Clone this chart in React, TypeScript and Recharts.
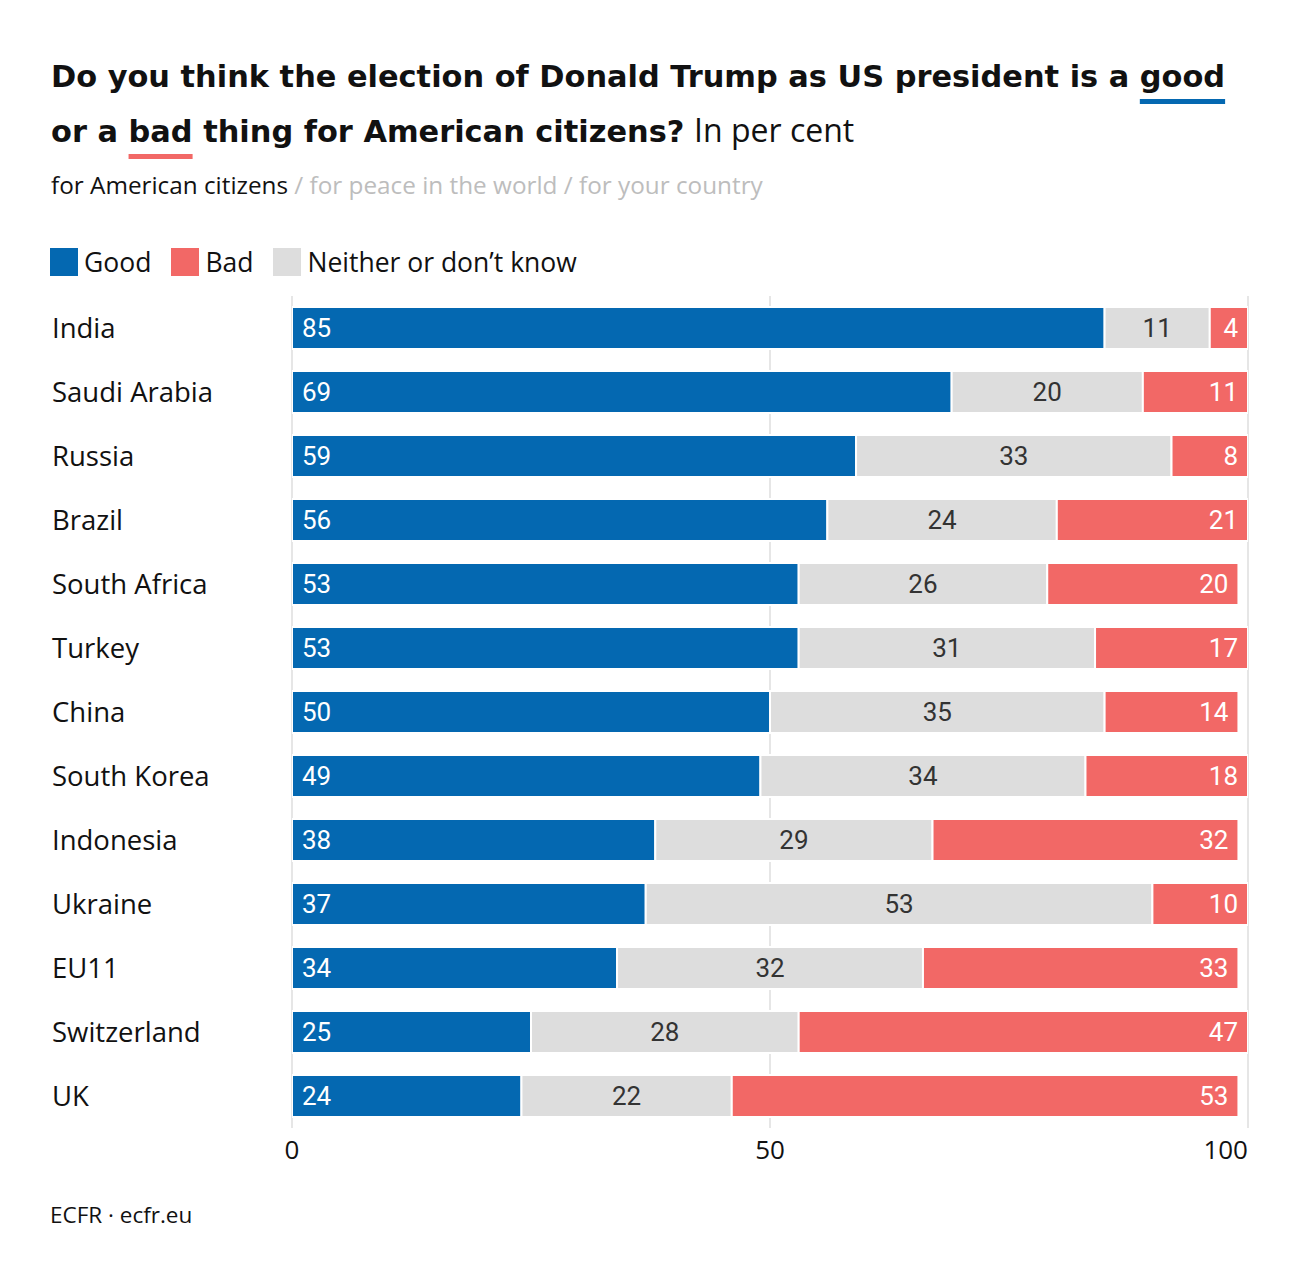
import React from "react";
import {
  BarChart,
  Bar,
  XAxis,
  YAxis,
  CartesianGrid,
  LabelList,
} from "recharts";

const countries = [
  "India",
  "Saudi Arabia",
  "Russia",
  "Brazil",
  "South Africa",
  "Turkey",
  "China",
  "South Korea",
  "Indonesia",
  "Ukraine",
  "EU11",
  "Switzerland",
  "UK",
];
const good = [85, 69, 59, 56, 53, 53, 50, 49, 38, 37, 34, 25, 24];
const neither = [11, 20, 33, 24, 26, 31, 35, 34, 29, 53, 32, 28, 22];
const bad = [4, 11, 8, 21, 20, 17, 14, 18, 32, 10, 33, 47, 53];
const xTicks = [0, 50, 100];

const BLUE = "#0468b1";
const RED = "#f26866";
const GREY = "#dddddd";
const FONT = "'Open Sans'";

const data = countries.map((country, i) => ({
  country,
  good: good[i],
  neither: neither[i],
  bad: bad[i],
}));

const CountryTick = (props: any) => {
  const { y, payload } = props;
  return (
    <text x={44} y={y} dy="0.36em" textAnchor="start" fontSize={27.5} fill="#111" fontFamily={FONT}>
      {payload.value}
    </text>
  );
};

const ValueTick = (props: any) => {
  const { x, y, payload } = props;
  const anchor = payload.value === 100 ? "end" : "middle";
  return (
    <text x={x} y={y} dy="0.9em" textAnchor={anchor} fontSize={26} fill="#111" fontFamily={FONT}>
      {payload.value}
    </text>
  );
};

const legendItems = [
  { name: "Good", color: BLUE },
  { name: "Bad", color: RED },
  { name: "Neither or don\u2019t know", color: GREY },
];

const labelFont = { fontSize: 26, fontFamily: "Roboto" };

export default function App() {
  return (
    <div style={{ position: "relative", width: 1292, height: 1268, background: "#fff", fontFamily: FONT, color: "#111" }}>
      {/* title */}
      <div style={{ position: "absolute", left: 43, top: 42, fontSize: 30.4, lineHeight: "53px", whiteSpace: "nowrap", fontFamily: "'DejaVu Sans'" }}>
        <b>
          Do you think the election of Donald Trump as US president is a{" "}
          <span style={{ textDecoration: "underline", textDecorationColor: BLUE, textDecorationThickness: 5, textUnderlineOffset: 12 }}>
            good
          </span>
        </b>
        <br />
        <b>
          or a{" "}
          <span style={{ textDecoration: "underline", textDecorationColor: RED, textDecorationThickness: 5, textUnderlineOffset: 12 }}>
            bad
          </span>{" "}
          thing for American citizens?
        </b>{" "}
        <span style={{ fontFamily: FONT, fontSize: 32 }}>In per cent</span>
      </div>

      <div style={{ position: "absolute", left: 43, top: 162, fontSize: 24.3, lineHeight: "30px", whiteSpace: "nowrap" }}>
        for American citizens <span style={{ color: "#bdbdbd" }}>/ for peace in the world / for your country</span>
      </div>

      {/* legend */}
      <div style={{ position: "absolute", left: 42, top: 240, display: "flex", alignItems: "center", fontSize: 26.5, lineHeight: "28px" }}>
        {legendItems.map((it) => (
          <div key={it.name} style={{ display: "flex", alignItems: "center", marginRight: 20 }}>
            <div style={{ width: 28, height: 28, background: it.color, marginRight: 6 }} />
            <span>{it.name}</span>
          </div>
        ))}
      </div>

      <div style={{ position: "absolute", left: 0, top: 0 }}>
        <BarChart
          width={1292}
          height={1180}
          data={data}
          layout="vertical"
          margin={{ top: 288, right: 52, left: 44, bottom: 20 }}
          barSize={42}
        >
          <CartesianGrid horizontal={false} vertical={true} stroke="#e6e6e6" strokeWidth={2} />
          <XAxis
            type="number"
            domain={[0, 100]}
            ticks={xTicks}
            allowDataOverflow
            axisLine={false}
            tickLine={false}
            height={40}
            tick={<ValueTick />}
          />
          <YAxis
            type="category"
            dataKey="country"
            width={240}
            axisLine={false}
            tickLine={false}
            tick={<CountryTick />}
          />
          <Bar dataKey="good" stackId="a" fill={BLUE} stroke="#fff" strokeWidth={2} isAnimationActive={false}>
            <LabelList dataKey="good" position="insideLeft" offset={10} fill="#fff" style={labelFont} />
          </Bar>
          <Bar dataKey="neither" stackId="a" fill={GREY} stroke="#fff" strokeWidth={2} isAnimationActive={false}>
            <LabelList dataKey="neither" position="center" fill="#333" style={labelFont} />
          </Bar>
          <Bar dataKey="bad" stackId="a" fill={RED} stroke="#fff" strokeWidth={2} isAnimationActive={false}>
            <LabelList dataKey="bad" position="insideRight" offset={10} fill="#fff" style={labelFont} />
          </Bar>
        </BarChart>
      </div>

      <div style={{ position: "absolute", left: 42, top: 1194, fontSize: 22.5, lineHeight: "26px" }}>
        ECFR · ecfr.eu
      </div>
    </div>
  );
}
